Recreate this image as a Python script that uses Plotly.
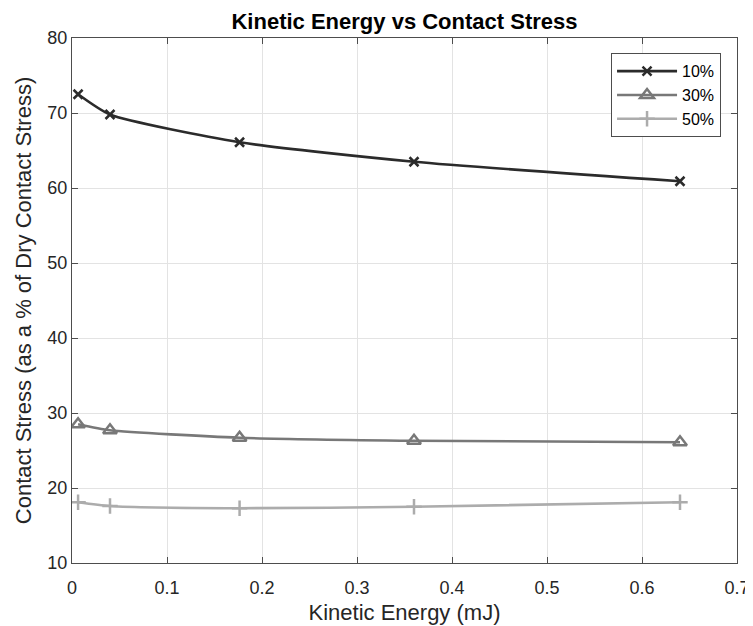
import plotly.graph_objects as go

kinetic_energy = [0.0064, 0.04, 0.1764, 0.36, 0.64]
stress_10 = [72.5, 69.8, 66.1, 63.5, 60.9]
stress_30 = [28.5, 27.7, 26.7, 26.3, 26.1]
stress_50 = [18.1, 17.6, 17.3, 17.5, 18.1]
series_names = ["10%", "30%", "50%"]

FONT = "Liberation Sans, Arial"

fig = go.Figure()
styles = [
    ("#2b2b2b", "x-thin-open", 9, 2.6),
    ("#787878", "triangle-up-open", 12, 2.6),
    ("#acacac", "cross-thin-open", 11, 2.6),
]
for name, ys, (col, sym, sz, lw) in zip(series_names, [stress_10, stress_30, stress_50], styles):
    fig.add_trace(go.Scatter(
        x=kinetic_energy, y=ys, name=name, mode="lines+markers",
        line=dict(color=col, width=lw, shape="spline", smoothing=0.6),
        marker=dict(symbol=sym, size=sz, color=col, line=dict(color=col, width=2.5)),
    ))

axis_common = dict(
    showline=True, linecolor="#4d4d4d", linewidth=1, mirror="ticks",
    ticks="inside", ticklen=6, tickcolor="#4d4d4d",
    showgrid=True, gridcolor="#e3e3e3", gridwidth=1, zeroline=False,
    automargin=False,
    tickfont=dict(family=FONT, size=18, color="#262626"),
    title_font=dict(family=FONT, size=22, color="#262626"),
)
fig.update_xaxes(range=[0, 0.7], dtick=0.1, ticklabelstandoff=8,
                 title_text="Kinetic Energy (mJ)", title_standoff=8, **axis_common)
fig.update_yaxes(range=[10, 80], dtick=10,
                 title_text="Contact Stress (as a % of Dry Contact Stress)", title_standoff=9, **axis_common)

fig.update_layout(
    width=745, height=618,
    margin=dict(l=64, r=16, t=30, b=63),
    plot_bgcolor="white", paper_bgcolor="white",
    title=dict(text="<b>Kinetic Energy vs Contact Stress</b>", x=0.5, xanchor="center",
               xref="paper", y=0.979, yanchor="middle",
               font=dict(family=FONT, size=22, color="#000")),
    legend=dict(x=0.976, y=0.971, xanchor="right", yanchor="top",
                bgcolor="white", bordercolor="#4d4d4d", borderwidth=1,
                font=dict(family=FONT, size=16, color="#000"),
                itemwidth=60, tracegroupgap=0),
    showlegend=True,
)
fig.write_html("out.html")
